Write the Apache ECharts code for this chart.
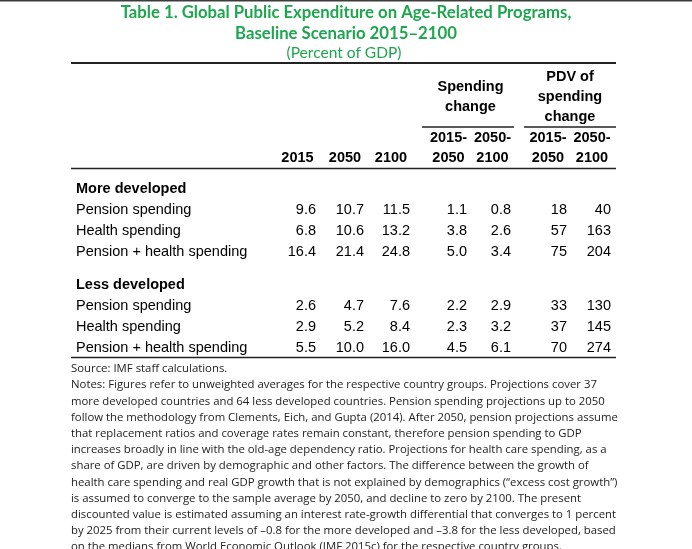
<!DOCTYPE html>
<html><head><meta charset="utf-8">
<script src="https://cdn.jsdelivr.net/npm/echarts@6/dist/echarts.min.js"></script>
<style>html,body{margin:0;padding:0;background:#fff}#c{width:692px;height:549px}</style>
</head><body><div id="c"></div>
<script>
// ---------- data ----------
const titleLines = ['Table 1. Global Public Expenditure on Age-Related Programs,', 'Baseline Scenario 2015\u20132100'];
const subtitle = '(Percent of GDP)';
const groups = ['More developed', 'Less developed'];
const rowLabels = ['Pension spending', 'Health spending', 'Pension + health spending'];
const levelYears = ['2015', '2050', '2100'];
const changeTop = ['2015-', '2050-', '2015-', '2050-'];
const changeBottom = ['2050', '2100', '2050', '2100'];
const spendingChangeHeader = ['Spending', 'change'];
const pdvHeader = ['PDV of', 'spending', 'change'];
const moreDevPension = [9.6, 10.7, 11.5, 1.1, 0.8, 18, 40];
const moreDevHealth  = [6.8, 10.6, 13.2, 3.8, 2.6, 57, 163];
const moreDevTotal   = [16.4, 21.4, 24.8, 5.0, 3.4, 75, 204];
const lessDevPension = [2.6, 4.7, 7.6, 2.2, 2.9, 33, 130];
const lessDevHealth  = [2.9, 5.2, 8.4, 2.3, 3.2, 37, 145];
const lessDevTotal   = [5.5, 10.0, 16.0, 4.5, 6.1, 70, 274];
const decimals = [1, 1, 1, 1, 1, 0, 0];
const sourceText = 'Source: IMF staff calculations.';
const notesLines = [
 'Notes: Figures refer to unweighted averages for the respective country groups. Projections cover 37',
 'more developed countries and 64 less developed countries. Pension spending projections up to 2050',
 'follow the methodology from Clements, Eich, and Gupta (2014). After 2050, pension projections assume',
 'that replacement ratios and coverage rates remain constant, therefore pension spending to GDP',
 'increases broadly in line with the old-age dependency ratio. Projections for health care spending, as a',
 'share of GDP, are driven by demographic and other factors. The difference between the growth of',
 'health care spending and real GDP growth that is not explained by demographics (\u201Cexcess cost growth\u201D)',
 'is assumed to converge to the sample average by 2050, and decline to zero by 2100. The present',
 'discounted value is estimated assuming an interest rate-growth differential that converges to 1 percent',
 'by 2025 from their current levels of \u20130.8 for the more developed and \u20133.8 for the less developed, based',
 'on the medians from World Economic Outlook (IMF 2015c) for the respective country groups.'
];

// ---------- layout ----------
const W = 692, H = 549;
const green = '#1ea64f';
const ink = '#000';
const tableFont = '"Liberation Sans", Arial, sans-serif';
const tfs = 14.5;
const colRight = [316, 364, 410, 467, 511, 567, 611];
const colCenter = [297.5, 345, 391, 448.5, 492.5, 548, 592];
const labelX = 76;
const groupY = [189, 285];
const rowStep = 21;
const ruleL = 71, ruleR = 616;

const ctx = document.createElement('canvas').getContext('2d');
function fit(text, weight, family, target) {
  ctx.font = weight + ' 20px ' + family;
  return 20 * target / ctx.measureText(text).width;
}
const titleFamily = 'Lato, sans-serif';
const titleSize = fit(titleLines[0], 'bold', titleFamily, 451);
const subSize = fit(subtitle, 'normal', titleFamily, 115);
const notesFamily = '"Open Sans", sans-serif';
const notesSize = fit(notesLines[2], 'normal', notesFamily, 547);

// ---------- table cells ----------
const cells = [];
function cell(x, y, text, bold, align) {
  cells.push({ x, y, text, font: (bold ? 'bold ' : '') + tfs + 'px ' + tableFont, align });
}
spendingChangeHeader.forEach((t, i) => cell((colCenter[3] + colCenter[4]) / 2, 87 + i * 20, t, true, 'center'));
pdvHeader.forEach((t, i) => cell((colCenter[5] + colCenter[6]) / 2, 77 + i * 20, t, true, 'center'));
changeTop.forEach((t, i) => cell(colCenter[3 + i], 138, t, true, 'center'));
levelYears.forEach((t, i) => cell(colCenter[i], 158, t, true, 'center'));
changeBottom.forEach((t, i) => cell(colCenter[3 + i], 158, t, true, 'center'));
const groupData = [[moreDevPension, moreDevHealth, moreDevTotal], [lessDevPension, lessDevHealth, lessDevTotal]];
groups.forEach((g, gi) => {
  cell(labelX, groupY[gi], g, true, 'left');
  rowLabels.forEach((lab, ri) => {
    const y = groupY[gi] + (ri + 1) * rowStep;
    cell(labelX, y, lab, false, 'left');
    groupData[gi][ri].forEach((v, ci) => cell(colRight[ci], y, v.toFixed(decimals[ci]), false, 'right'));
  });
});

// ---------- rules & texts ----------
const graphics = [
  { type: 'rect', shape: { x: 0, y: 0, width: W, height: 1.6 }, style: { fill: '#3c3c3c' } },
  { type: 'line', shape: { x1: ruleL, y1: 63, x2: ruleR, y2: 63 }, style: { stroke: '#222', lineWidth: 2 } },
  { type: 'line', shape: { x1: 422, y1: 127, x2: 514, y2: 127 }, style: { stroke: '#222', lineWidth: 1.5 } },
  { type: 'line', shape: { x1: 524, y1: 127, x2: ruleR, y2: 127 }, style: { stroke: '#222', lineWidth: 1.5 } },
  { type: 'line', shape: { x1: ruleL, y1: 168.5, x2: ruleR, y2: 168.5 }, style: { stroke: '#222', lineWidth: 1.5 } },
  { type: 'line', shape: { x1: ruleL, y1: 357.5, x2: ruleR, y2: 357.5 }, style: { stroke: '#222', lineWidth: 1.5 } }
];
titleLines.forEach((t, i) => graphics.push({ type: 'text', style: { text: t, x: W / 2, y: 13 + i * 20.5, align: 'center', verticalAlign: 'middle', font: 'bold ' + titleSize + 'px ' + titleFamily, fill: green } }));
graphics.push({ type: 'text', style: { text: subtitle, x: 344, y: 53, align: 'center', verticalAlign: 'middle', font: subSize + 'px ' + titleFamily, fill: green } });
[sourceText].concat(notesLines).forEach((t, i) => graphics.push({ type: 'text', style: { text: t, x: 71, y: 369 + i * 16.2, align: 'left', verticalAlign: 'middle', font: notesSize + 'px ' + notesFamily, fill: '#222' } }));

const chart = echarts.init(document.getElementById('c'), null, { renderer: 'canvas' });
chart.setOption({
  animation: false,
  backgroundColor: '#fff',
  grid: { left: 0, top: 0, width: W, height: H },
  xAxis: { type: 'value', min: 0, max: W, show: false },
  yAxis: { type: 'value', min: 0, max: H, inverse: true, show: false },
  series: [{
    type: 'custom',
    clip: false,
    silent: true,
    data: cells.map(c => [c.x, c.y]),
    renderItem: function (params, api) {
      const c = cells[params.dataIndex];
      const p = api.coord([api.value(0), api.value(1)]);
      return { type: 'text', style: { text: c.text, x: p[0], y: p[1], font: c.font, fill: ink, align: c.align, verticalAlign: 'middle' } };
    }
  }],
  graphic: graphics
});
</script>
</body></html>
